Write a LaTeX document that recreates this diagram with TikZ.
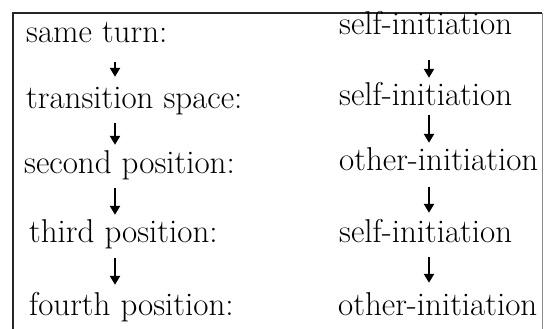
\documentclass[tikz,border=0pt]{standalone}
\usetikzlibrary{arrows.meta}

\tikzset{
    stage/.style={inner sep=0pt, anchor=base west, text height=21pt, text depth=7pt,
        font=\fontsize{33}{38}\selectfont},
    flow/.style={-{Triangle[length=9pt,width=10pt]}, line width=2.2pt}
}

\begin{document}
\begin{tikzpicture}[x=1pt, y=-1pt]
    \useasboundingbox (0,0) rectangle (544,329);
    % frame, open at the bottom
    \draw[line width=1.6pt, black!85] (13,329) -- (13,13) -- (542,13);
    \draw[line width=0.6pt, black!45] (542.5,13) -- (542.5,329);

    % positions
    \node[stage] (l1) at (26,43) {same turn:};
    \node[stage] (l2) at (26,108) {transition space:};
    \node[stage] (l3) at (24,173) {second position:};
    \node[stage] (l4) at (29,242) {third position:};
    \node[stage] (l5) at (29,315) {fourth position:};

    % initiations
    \node[stage] (r1) at (339,35) {self-initiation};
    \node[stage] (r2) at (339,106) {self-initiation};
    \node[stage] (r3) at (339,170) {other-initiation};
    \node[stage] (r4) at (339,242) {self-initiation};
    \node[stage] (r5) at (338,315) {other-initiation};

    \draw[flow, shorten <=12pt, shorten >=10pt] (115,0 |- l1.south) -- (115,0 |- l2.north);
    \draw[flow, shorten <=8pt, shorten >=7pt] (115,0 |- l2.south) -- (115,0 |- l3.north);
    \draw[flow, shorten <=8pt, shorten >=6pt] (115,0 |- l3.south) -- (115,0 |- l4.north);
    \draw[flow, shorten <=9pt, shorten >=9pt] (115,0 |- l4.south) -- (115,0 |- l5.north);

    \draw[flow, shorten <=18pt, shorten >=7pt] (429,0 |- r1.south) -- (429,0 |- r2.north);
    \draw[flow, shorten <=2pt, shorten >=6pt] (429,0 |- r2.south) -- (429,0 |- r3.north);
    \draw[flow, shorten <=10pt, shorten >=8pt] (429,0 |- r3.south) -- (429,0 |- r4.north);
    \draw[flow, shorten <=8pt, shorten >=11pt] (429,0 |- r4.south) -- (429,0 |- r5.north);
\end{tikzpicture}
\end{document}
